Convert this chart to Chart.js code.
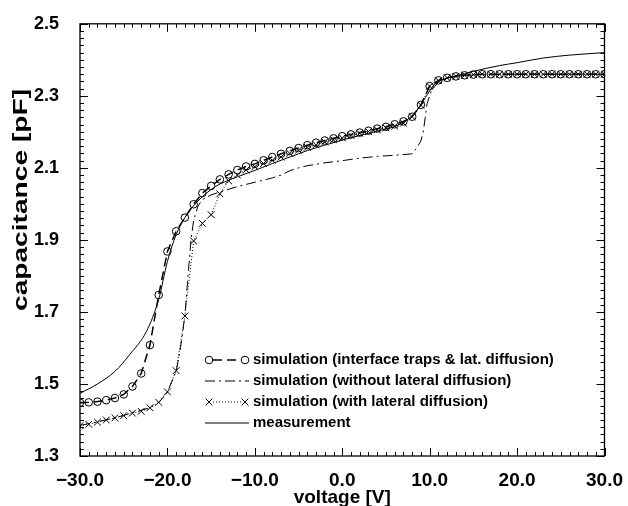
<!DOCTYPE html>
<html>
<head>
<meta charset="utf-8">
<script src="https://cdn.jsdelivr.net/npm/chart.js@4.4.1/dist/chart.umd.min.js"></script>
<style>
html,body{margin:0;padding:0;background:#fff;}
#wrap{width:628px;height:506px;}
</style>
</head>
<body>
<div id="wrap"><canvas id="c" width="628" height="506"></canvas></div>
<script>
// ---- data ----
const simVolts = [-30,-29,-28,-27,-26,-25,-24,-23,-22,-21,-20,-19,-18,-17,-16,-15,-14,-13,-12,-11,-10,-9,-8,-7,-6,-5,-4,-3,-2,-1,0,1,2,3,4,5,6,7,8,9,10,11,12,13,14,15,16,17,18,19,20,21,22,23,24,25,26,27,28,29,30];
const trapsLat = [1.448,1.449,1.451,1.455,1.461,1.471,1.493,1.529,1.608,1.747,1.868,1.924,1.962,1.999,2.030,2.050,2.068,2.082,2.094,2.104,2.111,2.121,2.130,2.139,2.147,2.155,2.163,2.170,2.176,2.182,2.188,2.193,2.198,2.203,2.209,2.214,2.221,2.229,2.242,2.275,2.327,2.343,2.350,2.354,2.357,2.359,2.360,2.360,2.360,2.360,2.360,2.360,2.360,2.360,2.360,2.360,2.360,2.360,2.360,2.360,2.360];
const withLat = [1.384,1.388,1.394,1.400,1.406,1.412,1.419,1.424,1.434,1.449,1.478,1.537,1.689,1.897,1.946,1.970,2.028,2.064,2.080,2.094,2.103,2.112,2.121,2.130,2.140,2.149,2.157,2.164,2.172,2.178,2.183,2.190,2.196,2.201,2.206,2.211,2.216,2.224,2.242,2.274,2.327,2.342,2.350,2.354,2.357,2.359,2.360,2.360,2.360,2.360,2.360,2.360,2.360,2.360,2.360,2.360,2.360,2.360,2.360,2.360,2.360];
const noLatVolts = [-30,-28,-26,-24,-22,-21,-20,-19,-18.5,-18,-17.7,-17.3,-17,-16.5,-16,-15,-14,-12,-10,-8,-7,-6,-5,-4,-2,0,2,4,6,8,8.5,9,9.3,9.7,10.2,11,12,13,15,20,30];
const noLat = [1.385,1.395,1.406,1.420,1.434,1.448,1.477,1.535,1.600,1.690,1.784,1.900,1.955,1.994,2.012,2.025,2.033,2.048,2.060,2.072,2.080,2.092,2.100,2.106,2.114,2.120,2.127,2.132,2.135,2.139,2.155,2.175,2.205,2.278,2.315,2.338,2.350,2.354,2.358,2.360,2.360];
const measVolts = [-30,-28,-26,-24.3,-22.4,-21,-20,-19,-18,-17,-16,-15,-14,-12,-10,-8,-6,-4,-2,0,2,4,6,7.5,8.5,9.5,10.5,11.5,13,15,18,20,23,26,30];
const meas = [1.474,1.500,1.535,1.582,1.646,1.735,1.840,1.915,1.962,1.995,2.020,2.040,2.055,2.075,2.093,2.112,2.130,2.148,2.163,2.177,2.190,2.202,2.215,2.235,2.258,2.295,2.330,2.345,2.355,2.368,2.384,2.392,2.405,2.413,2.420];
const xTickValues = [-30,-20,-10,0,10,20,30];
const xTickLabels = ["\u221230.0","\u221220.0","\u221210.0","0.0","10.0","20.0","30.0"];
const yTickValues = [1.3,1.5,1.7,1.9,2.1,2.3,2.5];
const yTickLabels = ["1.3","1.5","1.7","1.9","2.1","2.3","2.5"];
const seriesNames = ["simulation (interface traps & lat. diffusion)","simulation (without lateral diffusion)","simulation (with lateral diffusion)","measurement"];
const xTitle = "voltage [V]";
const yTitle = "capacitance [pF]";

const pts = (xs, ys) => xs.map((x, i) => ({x: x, y: ys[i]}));
const FONT = "'Liberation Sans', Arial, Helvetica, sans-serif";

const datasets = [
  {label: seriesNames[0], data: pts(simVolts, trapsLat), borderColor:'#000', borderWidth:1.5, borderDash:[9,5],
   pointStyle:'circle', pointRadius:3.8, pointBorderWidth:1, pointBorderColor:'#000', pointBackgroundColor:'rgba(0,0,0,0)', order:1},
  {label: seriesNames[1], data: pts(noLatVolts, noLat), borderColor:'#000', borderWidth:1, borderDash:[10,4,2,4],
   pointRadius:0, order:3},
  {label: seriesNames[2], data: pts(simVolts, withLat), borderColor:'#000', borderWidth:1, borderDash:[1,2],
   pointStyle:'crossRot', pointRadius:4.8, pointBorderWidth:1, pointBorderColor:'#000', order:2},
  {label: seriesNames[3], data: pts(measVolts, meas), borderColor:'#000', borderWidth:1, pointRadius:0, order:4, cubicInterpolationMode:'monotone'}
];

const frame = {
  id: 'frame',
  afterDraw(chart) {
    const ctx = chart.ctx, a = chart.chartArea;
    const xs = chart.scales.x, ys = chart.scales.y;
    ctx.save();
    ctx.strokeStyle = '#000';
    ctx.lineWidth = 1.3;
    ctx.strokeRect(a.left, a.top, a.right - a.left, a.bottom - a.top);
    ctx.lineWidth = 1;
    ctx.beginPath();
    for (let v = -30; v <= 30; v += 1) {
      const px = Math.round(xs.getPixelForValue(v)) + 0.5;
      const L = (v % 10 === 0) ? 8 : 4;
      ctx.moveTo(px, a.bottom); ctx.lineTo(px, a.bottom - L);
      ctx.moveTo(px, a.top); ctx.lineTo(px, a.top + L);
    }
    for (let k = 0; k <= 60; k++) {
      const v = 1.3 + k * 0.02;
      const py = Math.round(ys.getPixelForValue(v)) + 0.5;
      const L = (k % 10 === 0) ? 8 : 4;
      ctx.moveTo(a.left, py); ctx.lineTo(a.left + L, py);
      ctx.moveTo(a.right, py); ctx.lineTo(a.right - L, py);
    }
    ctx.stroke();
    // axis titles
    ctx.fillStyle = '#000';
    ctx.font = "bold 19px " + FONT;
    ctx.textAlign = 'center'; ctx.textBaseline = 'middle';
    ctx.fillText(xTitle, (a.left + a.right) / 2, 498);
    ctx.save();
    ctx.font = "bold 20px " + FONT;
    const w = ctx.measureText(yTitle).width;
    ctx.translate(21, 200);
    ctx.rotate(-Math.PI / 2);
    ctx.scale(222 / w, 1);
    ctx.fillText(yTitle, 0, 0);
    ctx.restore();
    // legend
    const rows = [360, 381, 402, 423];
    const x0 = 209, x1 = 245;
    ctx.font = "bold 15px " + FONT;
    ctx.textAlign = 'left';
    chart.data.datasets.forEach((ds, i) => {
      const y = rows[i];
      ctx.save();
      ctx.lineWidth = ds.borderWidth;
      ctx.setLineDash(ds.borderDash || []);
      ctx.beginPath();
      ctx.moveTo(x0 + (ds.pointRadius ? 4 : -4), y);
      ctx.lineTo(x1 - (ds.pointRadius ? 4 : -4), y);
      ctx.stroke();
      ctx.restore();
      if (ds.pointRadius) {
        ctx.save();
        ctx.fillStyle = 'rgba(0,0,0,0)';
        ctx.strokeStyle = '#000';
        ctx.lineWidth = 1;
        Chart.helpers.drawPoint(ctx, {pointStyle: ds.pointStyle, radius: ds.pointRadius, borderWidth: 1}, x0, y);
        Chart.helpers.drawPoint(ctx, {pointStyle: ds.pointStyle, radius: ds.pointRadius, borderWidth: 1}, x1, y);
        ctx.restore();
      }
      ctx.fillStyle = '#000';
      ctx.fillText(ds.label, 253, y);
    });
    ctx.restore();
  }
};

new Chart(document.getElementById('c'), {
  type: 'scatter',
  data: {datasets: datasets.map(d => Object.assign({showLine: true, fill: false, tension: 0}, d))},
  options: {
    responsive: false,
    animation: false,
    devicePixelRatio: 1,
    layout: {padding: {top: 19, right: 21, left: 0, bottom: 0}},
    plugins: {legend: {display: false}, tooltip: {enabled: false}},
    scales: {
      x: {
        type: 'linear', min: -30, max: 30,
        afterBuildTicks: s => { s.ticks = xTickValues.map(v => ({value: v})); },
        afterFit: s => { s.height = 50; },
        grid: {display: false},
        border: {display: false},
        ticks: {color: '#000', font: {family: FONT, size: 19, weight: 'bold'}, padding: 5, maxRotation: 0,
          callback: (v) => xTickLabels[xTickValues.indexOf(v)]}
      },
      y: {
        type: 'linear', min: 1.3, max: 2.5,
        afterBuildTicks: s => { s.ticks = yTickValues.map(v => ({value: v})); },
        afterFit: s => { s.width = 80; },
        grid: {display: false},
        border: {display: false},
        ticks: {color: '#000', font: {family: FONT, size: 18, weight: 'bold'}, padding: 13,
          callback: (v) => { const i = yTickValues.findIndex(t => Math.abs(t - v) < 1e-9); return i >= 0 ? yTickLabels[i] : ''; }}
      }
    }
  },
  plugins: [frame]
});
</script>
</body>
</html>
